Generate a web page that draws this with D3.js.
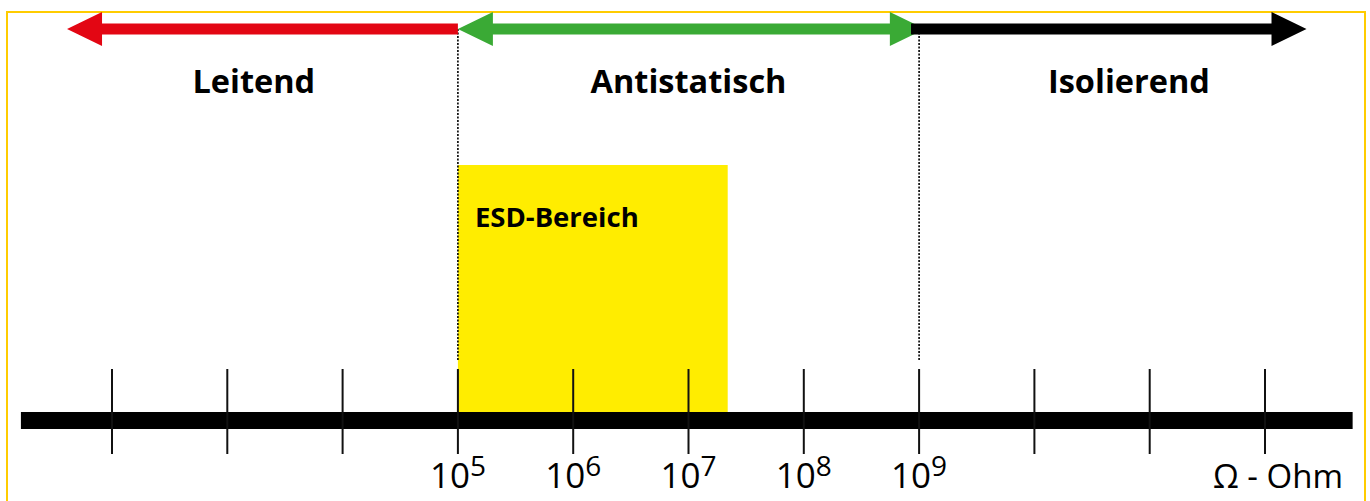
<!DOCTYPE html>
<html><head><meta charset="utf-8">
<script src="https://cdn.jsdelivr.net/npm/d3@7"></script>
<style>body{margin:0;background:#fff}svg{display:block}text{font-family:"Open Sans",sans-serif}</style>
</head><body><svg id="c" width="1370" height="501"></svg>
<script>
// exponents of the decades shown as ticks (10^2 ... 10^12)
const tickExponents = [2,3,4,5,6,7,8,9,10,11,12];
const labeledTicks = [5,6,7,8,9];
// ranges (log10 ohm)
const ranges = [
  {name:"Leitend",      from:5,  to:1.61, color:"#E30613", dir:"left",  label:3.23},
  {name:"Antistatisch", from:5,  to:9.05, color:"#3AAA35", dir:"both",  label:7.0},
  {name:"Isolierend",   from:8.93,  to:12.36, color:"#000000", dir:"right", label:10.82}
];
const boundaries = [5, 9];
const esdRange = [5, 7.34];
const axisExtent = [1.21, 12.76];
const unitLabel = "Ω - Ohm";

const svg = d3.select("#c");
const x = d3.scaleLog().domain([1e2, 1e12]).range([112, 1265]);
const X = e => x(Math.pow(10, e));

// frame
svg.append("rect").attr("x",7).attr("y",12).attr("width",1358).attr("height",520)
  .attr("fill","none").attr("stroke","#FFCC00").attr("stroke-width",2);

const arrowY = 29, shaftH = 11, headL = 35, headH = 17;
// ESD rect
svg.append("rect").attr("x",X(esdRange[0])).attr("y",165)
  .attr("width",X(esdRange[1])-X(esdRange[0])).attr("height",412-165).attr("fill","#FFED00");
svg.append("text").attr("x",X(esdRange[0])+17).attr("y",227).attr("font-size",27.5).attr("font-weight",700)
  .attr("fill","#000").text("ESD-Bereich");

// dotted boundaries
svg.selectAll("line.b").data(boundaries).join("line").attr("class","b")
  .attr("x1",d=>X(d)).attr("x2",d=>X(d)).attr("y1",arrowY).attr("y2",360)
  .attr("stroke","#000").attr("stroke-width",1.6).attr("stroke-dasharray","2,1.5");

// arrows
function arrowPath(a,b,left,right){
  const p = d3.path();
  const y0 = arrowY - shaftH/2, y1 = arrowY + shaftH/2;
  const sa = left ? a+headL : a, sb = right ? b-headL : b;
  p.moveTo(sa,y0); p.lineTo(sb,y0);
  if(right){ p.lineTo(sb,arrowY-headH); p.lineTo(b,arrowY); p.lineTo(sb,arrowY+headH); }
  p.lineTo(sb,y1); p.lineTo(sa,y1);
  if(left){ p.lineTo(sa,arrowY+headH); p.lineTo(a,arrowY); p.lineTo(sa,arrowY-headH); }
  p.closePath();
  return p.toString();
}
ranges.forEach(r=>{
  const a = Math.min(X(r.from),X(r.to)), b = Math.max(X(r.from),X(r.to));
  svg.append("path").attr("d",arrowPath(a,b,r.dir!=="right",r.dir!=="left")).attr("fill",r.color);
  svg.append("text").attr("x",X(r.label)).attr("y",93).attr("text-anchor","middle")
    .attr("font-size",32.5).attr("font-weight",700).attr("fill","#000").text(r.name);
});

// axis bar
svg.append("rect").attr("x",X(axisExtent[0])).attr("y",412).attr("width",X(axisExtent[1])-X(axisExtent[0]))
  .attr("height",17).attr("fill","#000");
// ticks
svg.selectAll("line.t").data(tickExponents).join("line").attr("class","t")
  .attr("x1",d=>X(d)).attr("x2",d=>X(d)).attr("y1",369).attr("y2",454)
  .attr("stroke","#111").attr("stroke-width",2);
// tick labels
const tl = svg.selectAll("text.tl").data(labeledTicks).join("text").attr("class","tl")
  .attr("x",d=>X(d)).attr("y",488).attr("text-anchor","middle").attr("font-size",35).attr("fill","#000");
tl.append("tspan").text("10");
tl.append("tspan").attr("dy",-12).attr("font-size",28).text(d=>d);
svg.append("text").attr("x",1343).attr("y",488).attr("text-anchor","end").attr("font-size",33).attr("fill","#000").text(unitLabel);
</script></body></html>
